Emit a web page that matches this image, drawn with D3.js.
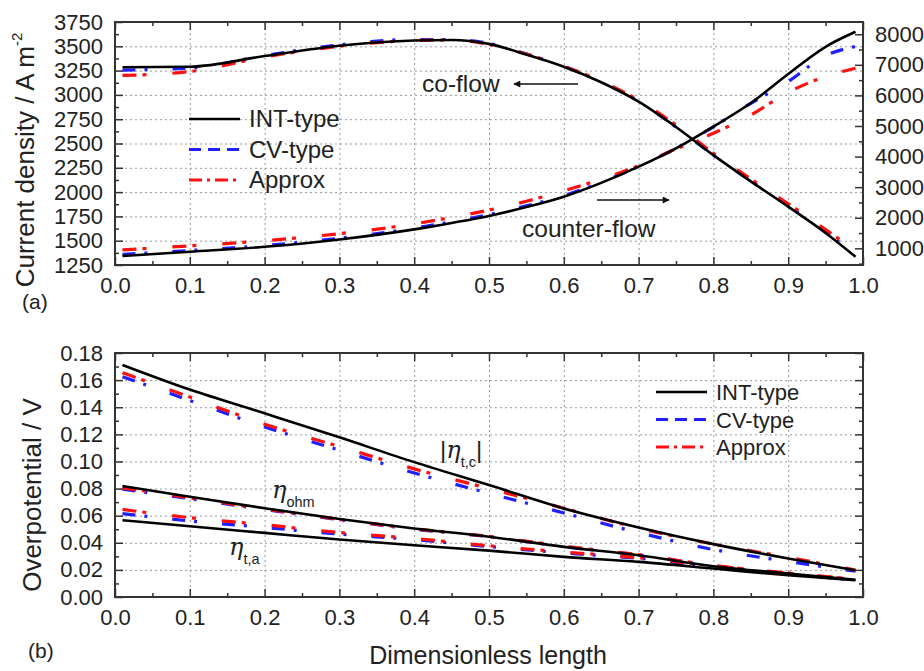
<!DOCTYPE html>
<html>
<head>
<meta charset="utf-8">
<script src="https://cdn.jsdelivr.net/npm/d3@7"></script>
<style>
  body { margin: 0; background: #fff; }
  text { font-family: "Liberation Sans", Arial, sans-serif; fill: #222; }
  .grid line { stroke: #999; stroke-dasharray: 2,3; stroke-width: 1; }
  .grid path { display: none; }
  .ax path { display: none; }
  .ax line { stroke: #333; stroke-width: 1.5; }
</style>
</head>
<body>
<svg id="chart"></svg>
<script>
// ---- data ----
// top panel: current density, co-flow on left axis, counter-flow on right axis
const xTopPts = [0.01, 0.1, 0.2, 0.3, 0.4, 0.45, 0.5, 0.55, 0.6, 0.65, 0.7, 0.75, 0.8, 0.85, 0.9, 0.95, 0.99];
const coInt    = [3285, 3290, 3400, 3506, 3560, 3565, 3525, 3415, 3290, 3130, 2930, 2670, 2380, 2110, 1850, 1580, 1335];
const coCv     = [3255, 3275, 3405, 3515, 3570, 3570, 3530, 3420, 3295, 3135, 2935, 2670, 2380, 2115, 1860, 1590, 1355];
const coApprox = [3200, 3240, 3390, 3500, 3560, 3565, 3520, 3420, 3295, 3140, 2945, 2690, 2400, 2135, 1880, 1615, 1395];
const ctInt    = [750, 890, 1050, 1290, 1620, 1830, 2060, 2350, 2690, 3140, 3670, 4270, 4980, 5750, 6700, 7590, 8080];
const ctCv     = [800, 930, 1090, 1330, 1660, 1870, 2100, 2390, 2720, 3160, 3680, 4270, 4970, 5740, 6450, 7300, 7600];
const ctApprox = [950, 1080, 1250, 1480, 1800, 2010, 2250, 2540, 2880, 3260, 3700, 4250, 4760, 5360, 6100, 6620, 6890];

// bottom panel: overpotentials
const xBotPts = [0.01, 0.1, 0.2, 0.3, 0.4, 0.5, 0.6, 0.7, 0.8, 0.9, 0.99];
const tcInt    = [0.1712, 0.1530, 0.1355, 0.1178, 0.0995, 0.0826, 0.0653, 0.0513, 0.0390, 0.0284, 0.0197];
const tcCv     = [0.1625, 0.1450, 0.1255, 0.1083, 0.0915, 0.0765, 0.0620, 0.0475, 0.0350, 0.0262, 0.0190];
const tcApprox = [0.1655, 0.1475, 0.1275, 0.1110, 0.0945, 0.0800, 0.0655, 0.0508, 0.0390, 0.0293, 0.0198];
const ohmInt    = [0.0818, 0.0740, 0.0655, 0.0575, 0.0505, 0.0445, 0.0370, 0.0308, 0.0227, 0.0173, 0.0127];
const ohmCv     = [0.0795, 0.0725, 0.0645, 0.0570, 0.0500, 0.0445, 0.0372, 0.0310, 0.0230, 0.0172, 0.0127];
const ohmApprox = [0.0805, 0.0732, 0.0650, 0.0573, 0.0503, 0.0447, 0.0375, 0.0312, 0.0233, 0.0176, 0.0130];
const taInt    = [0.0567, 0.0522, 0.0473, 0.0424, 0.0382, 0.0342, 0.0296, 0.0259, 0.0210, 0.0160, 0.0123];
const taCv     = [0.0615, 0.0561, 0.0513, 0.0464, 0.0423, 0.0372, 0.0325, 0.0285, 0.0225, 0.0170, 0.0125];
const taApprox = [0.0646, 0.0585, 0.0533, 0.0476, 0.0432, 0.0378, 0.0332, 0.0290, 0.0230, 0.0175, 0.0130];

const legendNames = ['INT-type', 'CV-type', 'Approx'];
const xTicks = d3.range(0, 1.01, 0.1);
const leftTicksTop = d3.range(1250, 3751, 250);
const rightTicksTop = d3.range(1000, 8001, 1000);
const yTicksBot = d3.range(0, 0.181, 0.02);

// ---- styles ----
// plot lines look sparser than the legend samples in the original
const styles = [
  {color: '#000', width: 2.6, dash: null, legDash: null},
  {color: '#1f1fff', width: 3.2, dash: '13,9,3,25', legDash: '12,7'},
  {color: '#ff1010', width: 3.2, dash: '14,6,4,26', legDash: '13,5,3,5'}
];

const W = 924, H = 671;
const svg = d3.select('#chart').attr('width', W).attr('height', H);

const x = d3.scaleLinear().domain([0, 1]).range([115, 863]);
const yL = d3.scaleLinear().domain([1250, 3750]).range([265, 22]);
const yR = d3.scaleLinear().domain([455, 8400]).range([265, 22]);
const yB = d3.scaleLinear().domain([0, 0.18]).range([597, 353]);

function panel(yScale, top, bottom, yTicks, yMinor, yFmt) {
  const g = svg.append('g');
  // gridlines
  g.append('g').attr('class', 'grid')
    .attr('transform', 'translate(0,' + bottom + ')')
    .call(d3.axisBottom(x).tickValues(xTicks.slice(1, -1)).tickSize(-(bottom - top)).tickFormat(''));
  g.append('g').attr('class', 'grid')
    .attr('transform', 'translate(115,0)')
    .call(d3.axisLeft(yScale).tickValues(yTicks.slice(1, -1)).tickSize(-(863 - 115)).tickFormat(''));
  // bottom axis with labels
  g.append('g').attr('class', 'ax')
    .attr('transform', 'translate(0,' + bottom + ')')
    .call(d3.axisBottom(x).tickValues(xTicks).tickSize(-8).tickPadding(12).tickFormat(d3.format('.1f')))
    .selectAll('text').style('font-size', '22px');
  g.append('g').attr('class', 'ax')
    .attr('transform', 'translate(0,' + bottom + ')')
    .call(d3.axisBottom(x).tickValues(d3.range(0.05, 1, 0.1)).tickSize(-4).tickFormat(''));
  // top axis ticks
  g.append('g').attr('class', 'ax')
    .attr('transform', 'translate(0,' + top + ')')
    .call(d3.axisTop(x).tickValues(xTicks).tickSize(-8).tickFormat(''));
  g.append('g').attr('class', 'ax')
    .attr('transform', 'translate(0,' + top + ')')
    .call(d3.axisTop(x).tickValues(d3.range(0.05, 1, 0.1)).tickSize(-4).tickFormat(''));
  // left axis
  g.append('g').attr('class', 'ax')
    .attr('transform', 'translate(115,0)')
    .call(d3.axisLeft(yScale).tickValues(yTicks).tickSize(-8).tickPadding(12).tickFormat(yFmt))
    .selectAll('text').style('font-size', '22px');
  g.append('g').attr('class', 'ax')
    .attr('transform', 'translate(115,0)')
    .call(d3.axisLeft(yScale).tickValues(yMinor).tickSize(-4).tickFormat(''));
  return g;
}

function drawLines(g, xs, series) {
  // colored first, black on top
  [1, 2, 0].forEach(k => {
    series.filter(s => s[2] === k).forEach(s => {
      const line = d3.line().x((d, i) => x(xs[i])).y(d => s[1](d)).curve(d3.curveMonotoneX);
      g.append('path').attr('d', line(s[0]))
        .attr('fill', 'none').attr('stroke', styles[k].color)
        .attr('stroke-width', styles[k].width)
        .attr('stroke-dasharray', styles[k].dash);
    });
  });
}

function legend(g, lx, ly0, step, size) {
  legendNames.forEach((name, i) => {
    const ly = ly0 + i * step;
    g.append('line').attr('x1', lx).attr('x2', lx + 51).attr('y1', ly).attr('y2', ly)
      .attr('stroke', styles[i].color).attr('stroke-width', styles[i].width)
      .attr('stroke-dasharray', styles[i].legDash);
    g.append('text').attr('x', lx + 60).attr('y', ly + 8).style('font-size', size + 'px').text(name);
  });
}

// ---- top panel ----
const gTop = panel(yL, 22, 265, leftTicksTop, d3.range(1375, 3750, 250), d3.format('d'));
gTop.append('g').attr('class', 'ax')
  .attr('transform', 'translate(863,0)')
  .call(d3.axisRight(yR).tickValues(rightTicksTop).tickSize(-8).tickPadding(12).tickFormat(d3.format('d')))
  .selectAll('text').style('font-size', '22px');
gTop.append('g').attr('class', 'ax')
  .attr('transform', 'translate(863,0)')
  .call(d3.axisRight(yR).tickValues(d3.range(500, 8400, 1000)).tickSize(-4).tickFormat(''));

drawLines(gTop, xTopPts, [
  [coInt, yL, 0], [coCv, yL, 1], [coApprox, yL, 2],
  [ctInt, yR, 0], [ctCv, yR, 1], [ctApprox, yR, 2]
]);

gTop.append('rect').attr('x', 115).attr('y', 22).attr('width', 748).attr('height', 243)
  .attr('fill', 'none').attr('stroke', '#333').attr('stroke-width', 2);

legend(gTop, 189, 119, 30.5, 24);

// annotations
svg.append('defs').append('marker').attr('id', 'arr')
  .attr('viewBox', '0 0 10 10').attr('refX', 9).attr('refY', 5)
  .attr('markerWidth', 11).attr('markerHeight', 7).attr('orient', 'auto')
  .attr('markerUnits', 'userSpaceOnUse')
  .append('path').attr('d', 'M0,0 L10,5 L0,10 z').attr('fill', '#111');
gTop.append('text').attr('x', 422).attr('y', 92).style('font-size', '24.5px').text('co-flow');
gTop.append('line').attr('x1', 578).attr('x2', 514).attr('y1', 84).attr('y2', 84)
  .attr('stroke', '#111').attr('stroke-width', 1.3).attr('marker-end', 'url(#arr)');
gTop.append('text').attr('x', 522).attr('y', 237).style('font-size', '24.5px').text('counter-flow');
gTop.append('line').attr('x1', 597).attr('x2', 669).attr('y1', 200).attr('y2', 200)
  .attr('stroke', '#111').attr('stroke-width', 1.3).attr('marker-end', 'url(#arr)');

// axis title top
const tTop = svg.append('text').attr('transform', 'translate(34,160) rotate(-90)')
  .attr('text-anchor', 'middle').style('font-size', '26px');
tTop.append('tspan').text('Current density / A m');
tTop.append('tspan').attr('dy', -12).style('font-size', '15px').text('-2');
svg.append('text').attr('x', 22).attr('y', 309).style('font-size', '21px').text('(a)');

// ---- bottom panel ----
const gBot = panel(yB, 353, 597, yTicksBot, d3.range(0.01, 0.18, 0.02), d3.format('.2f'));
gBot.append('g').attr('class', 'ax')
  .attr('transform', 'translate(863,0)')
  .call(d3.axisRight(yB).tickValues(yTicksBot).tickSize(-8).tickFormat(''));
gBot.append('g').attr('class', 'ax')
  .attr('transform', 'translate(863,0)')
  .call(d3.axisRight(yB).tickValues(d3.range(0.01, 0.18, 0.02)).tickSize(-4).tickFormat(''));

drawLines(gBot, xBotPts, [
  [tcInt, yB, 0], [tcCv, yB, 1], [tcApprox, yB, 2],
  [ohmInt, yB, 0], [ohmCv, yB, 1], [ohmApprox, yB, 2],
  [taInt, yB, 0], [taCv, yB, 1], [taApprox, yB, 2]
]);

gBot.append('rect').attr('x', 115).attr('y', 353).attr('width', 748).attr('height', 244)
  .attr('fill', 'none').attr('stroke', '#333').attr('stroke-width', 2);

legend(gBot, 656, 392, 27.5, 22);

// eta labels
function etaLabel(px, py, sub, bars) {
  const t = gBot.append('text').attr('x', px).attr('y', py).style('font-size', '24px');
  if (bars) t.append('tspan').text('|');
  t.append('tspan').style('font-family', '"DejaVu Serif", serif').style('font-style', 'italic').text('η');
  t.append('tspan').attr('dy', 9).style('font-size', '14.5px').text(sub);
  if (bars) t.append('tspan').attr('dy', -9).text('|');
}
etaLabel(440, 458, 't,c', true);
etaLabel(272, 498, 'ohm', false);
etaLabel(229, 555, 't,a', false);

svg.append('text').attr('transform', 'translate(41,495) rotate(-90)')
  .attr('text-anchor', 'middle').style('font-size', '26px').text('Overpotential / V');
svg.append('text').attr('x', 488).attr('y', 664).attr('text-anchor', 'middle')
  .style('font-size', '25px').text('Dimensionless length');
svg.append('text').attr('x', 28).attr('y', 658).style('font-size', '21px').text('(b)');
</script>
</body>
</html>
